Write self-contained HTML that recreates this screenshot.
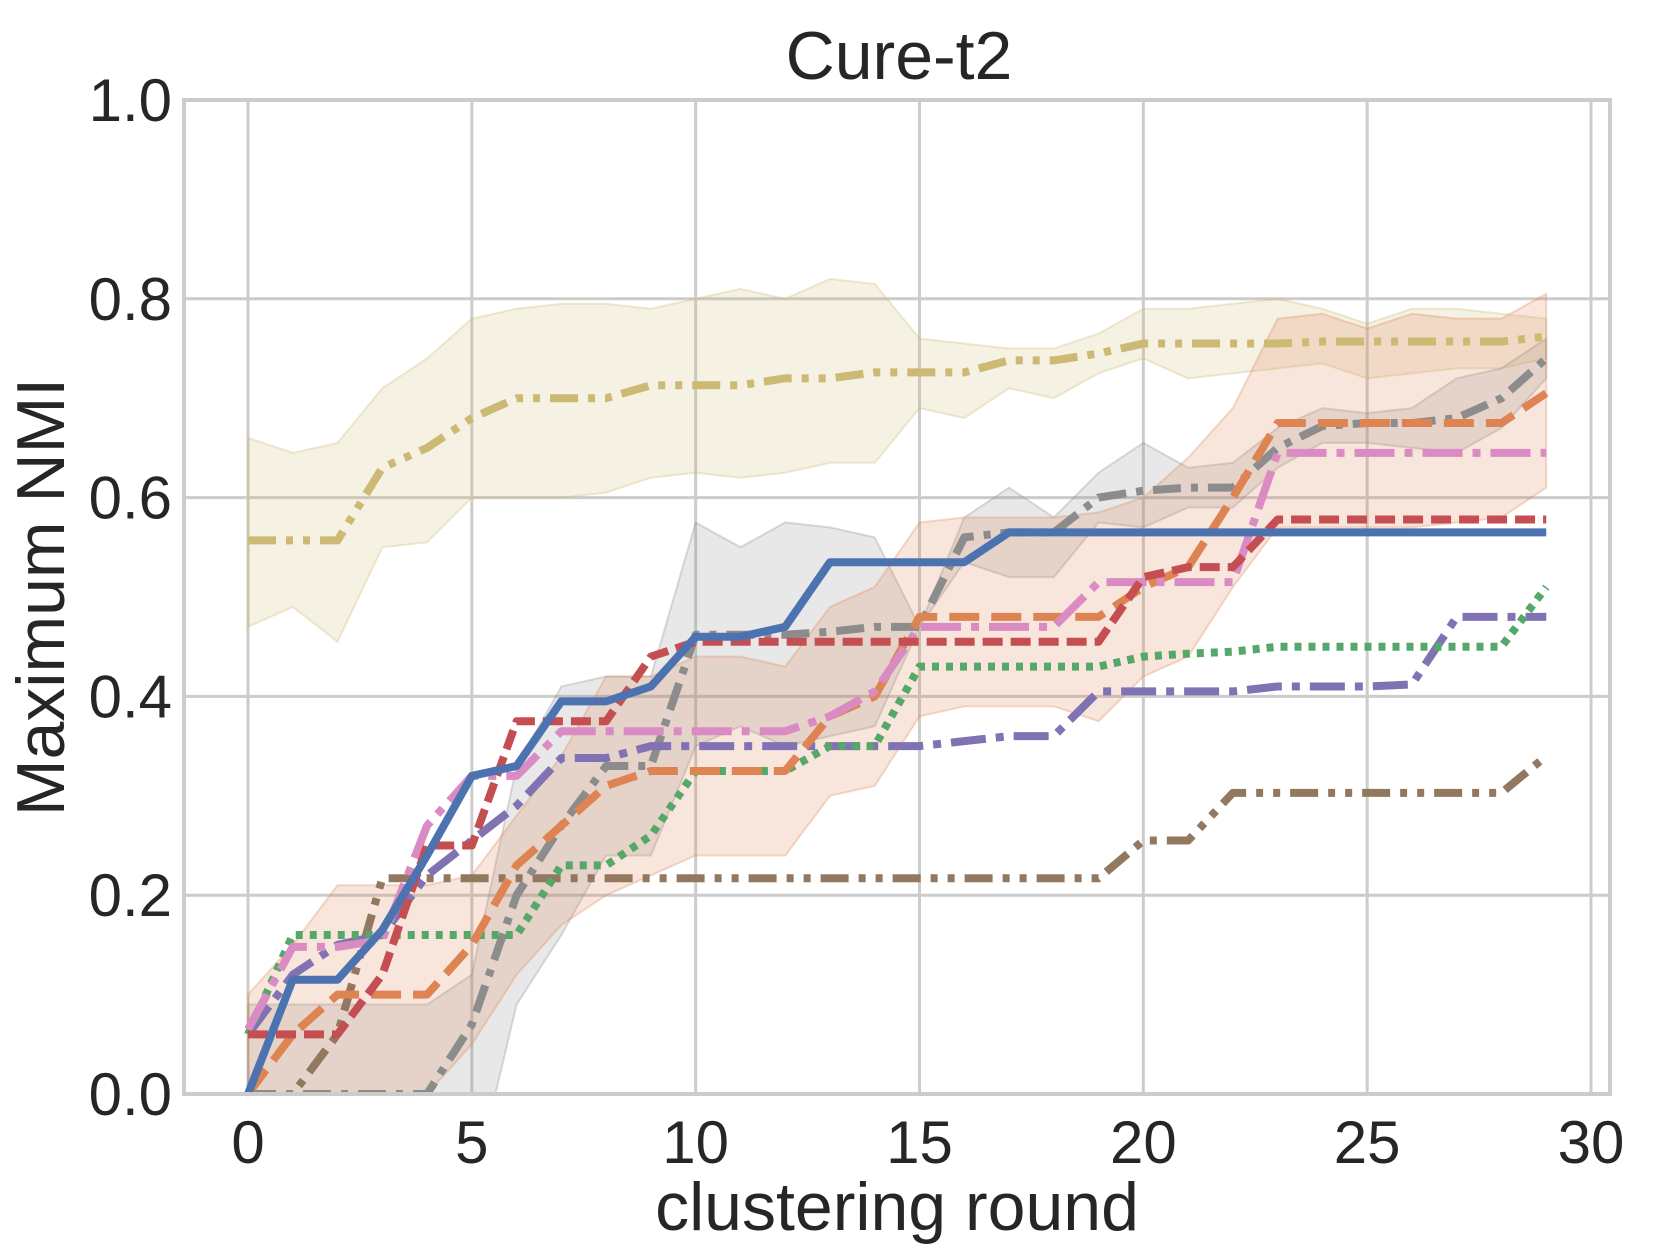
<!DOCTYPE html>
<html><head><meta charset="utf-8"><style>
html,body{margin:0;padding:0;background:#fff}
svg{display:block;font-family:"Liberation Sans",Arial,sans-serif}
</style></head><body>
<svg id="chart" width="1660" height="1245" viewBox="0 0 1660 1245">
<defs><clipPath id="clip"><rect x="184" y="100" width="1426" height="994"/></clipPath></defs>
<g id="grid"></g>
<g id="bands" clip-path="url(#clip)"></g>
<g id="lines" clip-path="url(#clip)"></g>
<rect x="184" y="100" width="1426" height="994" fill="none" stroke="#cccccc" stroke-width="4"/>
<g id="ticks"></g>
<text x="899" y="79" text-anchor="middle" font-size="68" fill="#262626">Cure-t2</text>
<text x="897" y="1230" text-anchor="middle" font-size="68" fill="#262626">clustering round</text>
<text transform="translate(64,597) rotate(-90)" text-anchor="middle" font-size="68" fill="#262626">Maximum NMI</text>
</svg>
<script>
const xTicks=[0,5,10,15,20,25,30];
const yTicks=[0.0,0.2,0.4,0.6,0.8,1.0];
const rounds=[...Array(30).keys()];
const olive=[0.557,0.557,0.557,0.63,0.65,0.68,0.70,0.70,0.70,0.713,0.713,0.713,0.72,0.72,0.726,0.726,0.726,0.738,0.738,0.745,0.755,0.755,0.755,0.755,0.757,0.757,0.757,0.757,0.757,0.762];
const oliveHi=[0.66,0.645,0.655,0.71,0.74,0.78,0.79,0.795,0.795,0.79,0.80,0.81,0.80,0.82,0.815,0.76,0.755,0.75,0.75,0.765,0.79,0.79,0.795,0.80,0.79,0.775,0.79,0.79,0.785,0.78];
const oliveLo=[0.47,0.49,0.455,0.55,0.555,0.60,0.60,0.60,0.605,0.62,0.625,0.62,0.625,0.635,0.635,0.69,0.68,0.71,0.70,0.725,0.74,0.72,0.725,0.73,0.735,0.72,0.725,0.73,0.73,0.74];
const blue=[0,0.115,0.115,0.165,0.24,0.32,0.33,0.395,0.395,0.41,0.46,0.46,0.47,0.535,0.535,0.535,0.535,0.565,0.565,0.565,0.565,0.565,0.565,0.565,0.565,0.565,0.565,0.565,0.565,0.565];
const orange=[0,0.06,0.10,0.10,0.10,0.15,0.23,0.27,0.31,0.325,0.325,0.325,0.325,0.38,0.40,0.48,0.48,0.48,0.48,0.48,0.51,0.53,0.60,0.675,0.675,0.675,0.675,0.675,0.675,0.705];
const orangeHi=[0.10,0.15,0.21,0.21,0.21,0.22,0.28,0.34,0.42,0.42,0.44,0.44,0.43,0.49,0.51,0.575,0.58,0.58,0.58,0.585,0.60,0.64,0.69,0.78,0.785,0.77,0.785,0.78,0.78,0.805];
const orangeLo=[0,0,0,0,0,0.05,0.12,0.17,0.20,0.22,0.24,0.24,0.24,0.30,0.31,0.38,0.39,0.39,0.39,0.375,0.42,0.44,0.51,0.57,0.57,0.57,0.57,0.575,0.58,0.61];
const green=[0.06,0.16,0.16,0.16,0.16,0.16,0.16,0.23,0.23,0.26,0.325,0.325,0.325,0.35,0.35,0.43,0.43,0.43,0.43,0.43,0.44,0.443,0.445,0.45,0.45,0.45,0.45,0.45,0.45,0.51];
const red=[0.06,0.06,0.06,0.12,0.25,0.25,0.375,0.375,0.375,0.44,0.455,0.455,0.455,0.455,0.455,0.455,0.455,0.455,0.455,0.455,0.52,0.53,0.53,0.578,0.578,0.578,0.578,0.578,0.578,0.578];
const purple=[0.06,0.12,0.15,0.16,0.22,0.255,0.29,0.338,0.338,0.35,0.35,0.35,0.35,0.35,0.35,0.35,0.355,0.36,0.36,0.405,0.405,0.405,0.405,0.41,0.41,0.41,0.412,0.48,0.48,0.48];
const pink=[0.065,0.148,0.148,0.155,0.27,0.32,0.32,0.365,0.365,0.365,0.365,0.365,0.365,0.38,0.405,0.47,0.47,0.47,0.47,0.515,0.515,0.515,0.515,0.645,0.645,0.645,0.645,0.645,0.645,0.645];
const brown=[0,0,0.06,0.217,0.217,0.217,0.217,0.217,0.217,0.217,0.217,0.217,0.217,0.217,0.217,0.217,0.217,0.217,0.217,0.217,0.255,0.255,0.303,0.303,0.303,0.303,0.303,0.303,0.303,0.34];
const gray=[0,0,0,0,0,0.07,0.20,0.27,0.33,0.33,0.462,0.462,0.462,0.465,0.47,0.47,0.56,0.565,0.565,0.60,0.607,0.61,0.61,0.65,0.672,0.675,0.675,0.68,0.70,0.74];
const grayHi=[0.09,0.09,0.09,0.09,0.09,0.12,0.33,0.41,0.42,0.42,0.575,0.55,0.575,0.57,0.56,0.47,0.58,0.61,0.58,0.625,0.655,0.63,0.635,0.67,0.69,0.685,0.69,0.72,0.73,0.76];
const grayLo=[0,0,0,0,0,-0.1,0.09,0.16,0.24,0.24,0.35,0.37,0.35,0.36,0.37,0.47,0.535,0.52,0.52,0.575,0.57,0.59,0.59,0.63,0.655,0.655,0.65,0.645,0.67,0.72];

const NS="http://www.w3.org/2000/svg";
const X=v=>248+v*(1591-248)/30;
const Y=v=>1094-v*994;
function mk(tag,attrs,parent){const e=document.createElementNS(NS,tag);for(const k in attrs)e.setAttribute(k,attrs[k]);parent.appendChild(e);return e;}
const grid=document.getElementById('grid'),ticks=document.getElementById('ticks');
xTicks.forEach(t=>{
  const l=mk('line',{x1:X(t),x2:X(t),y1:100,y2:1094,stroke:'#cccccc','stroke-width':3},grid);
  
  
  const tx=mk('text',{x:X(t),y:1163,'text-anchor':'middle','font-size':60,fill:'#262626'},ticks);
  tx.textContent=t;
  
  
});
yTicks.forEach(t=>{
  const l=mk('line',{x1:184,x2:1610,y1:Y(t),y2:Y(t),stroke:'#cccccc','stroke-width':3},grid);
  
  
  const tx=mk('text',{x:172,y:Y(t)+21,'text-anchor':'end','font-size':60,fill:'#262626'},ticks);
  tx.textContent=t.toFixed(1);
  
  
});
function band(lo,hi,color,name){
  let d='M'+rounds.map(i=>X(i)+','+Y(hi[i])).join(' L');
  d+=' L'+rounds.slice().reverse().map(i=>X(i)+','+Y(lo[i])).join(' L')+' Z';
  const p=mk('path',{d:d,fill:color,'fill-opacity':0.2,stroke:color,'stroke-opacity':0.3,'stroke-width':2},document.getElementById('bands'));
  
  
}
band(oliveLo,oliveHi,'#ccb974','olive-band');
band(grayLo,grayHi,'#8c8c8c','gray-band');
band(orangeLo,orangeHi,'#dd8452','orange-band');
function line(vals,color,dash,name){
  const d='M'+rounds.map(i=>X(i)+','+Y(vals[i])).join(' L');
  const p=mk('path',{d:d,fill:'none',stroke:color,'stroke-width':8,'stroke-dasharray':dash,'stroke-linejoin':'round'},document.getElementById('lines'));
  
  
}
line(olive,'#ccb974','28,10,7,10,7,10','olive-series');
line(brown,'#937860','28,10,7,10,7,10','brown-series');
line(gray,'#8c8c8c','28,10,7,10','gray-series');
line(purple,'#8172b3','35,10,8,10','purple-series');
line(green,'#55a868','7,7','green-series');
line(orange,'#dd8452','30,12','orange-series');
line(pink,'#da8bc3','40,10,8,10','pink-series');
line(red,'#c44e52','20,8','red-series');
line(blue,'#4c72b0','none','blue-series');
</script>
</body></html>
